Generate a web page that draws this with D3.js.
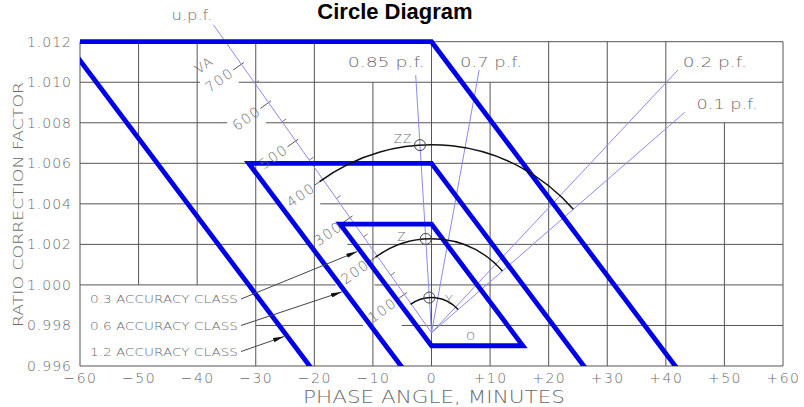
<!DOCTYPE html>
<html>
<head>
<meta charset="utf-8">
<script src="https://cdn.jsdelivr.net/npm/d3@7"></script>
<style>
body { margin: 0; background: #fff; }
text { font-family: "DejaVu Sans", sans-serif; font-weight: 200; fill: #6a6a6a; }
</style>
</head>
<body>
<div id="chart"></div>
<script>
// axis ticks
var phaseTicks = [-60, -50, -40, -30, -20, -10, 0, 10, 20, 30, 40, 50, 60];
var rcfTicks = [0.996, 0.998, 1.000, 1.002, 1.004, 1.006, 1.008, 1.010, 1.012];

// accuracy classes (RCF and TCF limits)
var classNames = ["0.3", "0.6", "1.2"];
var classLow = [0.997, 0.994, 0.988];
var classHigh = [1.003, 1.006, 1.012];
var classArrowRcf = [1.0017, 0.9997, 0.9975];
var tcfFactor = 2600; // TCF = RCF + phase/2600

// burden (circle diagram) data
var zeroPhase = 0, zeroRcf = 0.99764;
var pfLabels = ["u.p.f.", "0.85 p.f.", "0.7 p.f.", "0.2 p.f.", "0.1 p.f."];
var pfValues = [1, 0.85, 0.7, 0.2, 0.1];
var pfLineVA = [803, 549, 568, 766, 714];
var burdenNames = ["Y", "Z", "ZZ"];
var burdenVA = [75, 200, 400];
var burdenPf = 0.85;
var vaMajor = [100, 200, 300, 400, 500, 600, 700];
var vaMinor = [150, 250, 350, 450, 550, 650];

var W = 804, H = 407;
var svg = d3.select("#chart").append("svg").attr("width", W).attr("height", H);

var x = d3.scaleLinear().domain([-60, 60]).range([80, 783]);
var y = d3.scaleLinear().domain([0.996, 1.012]).range([366, 41.7]);
var vaPx = d3.scaleLinear().domain([0, 700]).range([0, 329]);
var upfAngle = -35.3 * Math.PI / 180;

var ox = x(zeroPhase), oy = y(zeroRcf);
function pfAngle(pf) { return upfAngle + Math.acos(pf); }
function burdenPoint(va, a) { return [ox + vaPx(va) * Math.sin(a), oy - vaPx(va) * Math.cos(a)]; }

var defs = svg.append("defs");
defs.append("clipPath").attr("id", "plotClip").append("rect")
    .attr("x", x(-60)).attr("y", 25).attr("width", x(60) - x(-60)).attr("height", y(0.996) - 25);
defs.append("marker").attr("id", "arrow")
    .attr("viewBox", "0 0 10 4").attr("refX", 10).attr("refY", 2)
    .attr("markerWidth", 11).attr("markerHeight", 4.5)
    .attr("markerUnits", "userSpaceOnUse").attr("orient", "auto")
    .attr("preserveAspectRatio", "none")
    .append("path").attr("d", "M0,0L10,2L0,4Z").attr("fill", "#111");

var gGrid = svg.append("g");
var gLines = svg.append("g");
var gBlue = svg.append("g").attr("clip-path", "url(#plotClip)");
var gArcs = svg.append("g");
var gText = svg.append("g");

// title
svg.append("text").attr("x", 395).attr("y", 19).attr("text-anchor", "middle")
    .style("font-family", "'Liberation Sans', Arial, sans-serif").style("font-weight", "bold")
    .style("font-size", "22px").style("fill", "#000").text("Circle Diagram");

// VA scale along u.p.f. line
var nx = -Math.abs(Math.cos(upfAngle)), ny = Math.abs(Math.sin(upfAngle)); // toward lower-left
var textRot = Math.atan2(-ny, -nx) * 180 / Math.PI;

vaMajor.forEach(function(v) {
    var p = burdenPoint(v, upfAngle);
    gLines.append("line").attr("x1", p[0] - nx * 3).attr("y1", p[1] - ny * 3)
        .attr("x2", p[0] + nx * 10).attr("y2", p[1] + ny * 10)
        .attr("stroke", "#555").attr("stroke-width", 1);
    var c = [p[0] + nx * 27, p[1] + ny * 27];
    gText.append("text").attr("class", "va")
        .attr("transform", "translate(" + c[0] + "," + c[1] + ") rotate(" + textRot + ")")
        .attr("text-anchor", "middle").attr("dy", "0.36em")
        .style("font-size", "14px").style("letter-spacing", "1.5px").text(v);
});
vaMinor.forEach(function(v) {
    var p = burdenPoint(v, upfAngle);
    gLines.append("line").attr("x1", p[0]).attr("y1", p[1])
        .attr("x2", p[0] - nx * 5).attr("y2", p[1] - ny * 5)
        .attr("stroke", "#777").attr("stroke-width", 1);
});
(function() {
    var p = burdenPoint(745, upfAngle);
    var c = [p[0] + nx * 31, p[1] + ny * 31];
    gText.append("text").attr("class", "va")
        .attr("transform", "translate(" + c[0] + "," + c[1] + ") rotate(" + textRot + ")")
        .attr("text-anchor", "middle").attr("dy", "0.36em")
        .style("font-size", "13px").style("letter-spacing", "1px").text("VA");
})();

// grid (with breaks where text sits)
var gridXTop = {"-50": 1.012, "-10": 1.010, "10": 1.010, "50": 1.008};
var gridXBottom = {"-50": 1.000, "-40": 1.000};
var gridYLeft = {"0.998": -30};
var boxes = [];
gText.selectAll("text.va").each(function() {
    boxes.push(this.getBoundingClientRect());
});
phaseTicks.forEach(function(t) {
    var top = gridXTop[t] !== undefined ? gridXTop[t] : 1.012;
    var bot = gridXBottom[t] !== undefined ? gridXBottom[t] : 0.996;
    gGrid.append("line").attr("x1", x(t)).attr("x2", x(t)).attr("y1", y(top)).attr("y2", y(bot))
        .attr("stroke", "#555").attr("stroke-width", 1);
});
rcfTicks.forEach(function(t) {
    var key = t.toFixed(3);
    var left = gridYLeft[key] !== undefined ? gridYLeft[key] : -60;
    var py = y(t);
    var segs = [[x(left), x(60)]];
    boxes.forEach(function(b) {
        if (py >= b.top - 1 && py <= b.bottom + 1) {
            var out = [];
            segs.forEach(function(s) {
                if (b.right + 2 < s[0] || b.left - 2 > s[1]) { out.push(s); return; }
                if (b.left - 2 > s[0]) out.push([s[0], b.left - 2]);
                if (b.right + 2 < s[1]) out.push([b.right + 2, s[1]]);
            });
            segs = out;
        }
    });
    segs.forEach(function(s) {
        gGrid.append("line").attr("x1", s[0]).attr("x2", s[1]).attr("y1", py).attr("y2", py)
            .attr("stroke", "#555").attr("stroke-width", 1);
    });
});

// power factor lines
pfValues.forEach(function(pf, i) {
    var e = burdenPoint(pfLineVA[i], pfAngle(pf));
    gLines.append("line").attr("x1", ox).attr("y1", oy).attr("x2", e[0]).attr("y2", e[1])
        .attr("stroke", "#8a8af0").attr("stroke-width", 1);
});
var pfLabelPos = [[-1, -5, "end", 41], [9, -8, "end", 77], [-19, -3, "start", 62], [5, -3, "start", 64], [12, -3, "start", 61]];
pfLabels.forEach(function(lbl, i) {
    var e = burdenPoint(pfLineVA[i], pfAngle(pfValues[i]));
    var pos = pfLabelPos[i];
    gText.append("text").attr("x", e[0] + pos[0]).attr("y", e[1] + pos[1])
        .attr("text-anchor", pos[2]).attr("textLength", pos[3]).attr("lengthAdjust", "spacingAndGlyphs")
        .style("font-size", "14px").text(lbl);
});

// accuracy class parallelograms
var poly = d3.line().curve(d3.curveLinearClosed);
classNames.forEach(function(c, i) {
    var lo = classLow[i], hi = classHigh[i], span = tcfFactor * (hi - lo);
    var pts = [[-span, hi], [0, hi], [span, lo], [0, lo]].map(function(d) { return [x(d[0]), y(d[1])]; });
    gBlue.append("path").attr("d", poly(pts)).attr("fill", "none")
        .attr("stroke", "#0000e6").attr("stroke-width", 4.8).attr("stroke-linejoin", "miter");
});

// burden arcs and points
var a0 = upfAngle - 1.2 * Math.PI / 180, a1 = pfAngle(0.1);
var burdenLabelPos = [[20, 2], [-24, -2], [-17, -6]];
burdenVA.forEach(function(v, i) {
    var p = d3.path();
    p.arc(ox, oy, vaPx(v), a0 - Math.PI / 2, a1 - Math.PI / 2);
    gArcs.append("path").attr("d", p.toString()).attr("fill", "none")
        .attr("stroke", "#111").attr("stroke-width", 1.5);
    var b = burdenPoint(v, pfAngle(burdenPf));
    gArcs.append("circle").attr("cx", b[0]).attr("cy", b[1]).attr("r", 5.5)
        .attr("fill", "none").attr("stroke", "#444").attr("stroke-width", 1);
    gText.append("text").attr("x", b[0] + burdenLabelPos[i][0]).attr("y", b[1] + burdenLabelPos[i][1])
        .attr("text-anchor", "middle").attr("dy", "0.36em")
        .style("font-size", "12px").style("letter-spacing", "1px").text(burdenNames[i]);
});
gText.append("text").attr("x", ox + 39).attr("y", oy + 3).attr("text-anchor", "middle")
    .attr("dy", "0.36em").style("font-size", "11px").text("O");

// legend with leaders
var legendY = [303, 329.5, 355.5];
classNames.forEach(function(c, i) {
    gText.append("text").attr("x", 90).attr("y", legendY[i])
        .attr("textLength", 148).attr("lengthAdjust", "spacingAndGlyphs")
        .style("font-size", "10.5px").text(c + " ACCURACY CLASS");
    var r = classArrowRcf[i];
    var tx = x(tcfFactor * (classLow[i] - r)), ty = y(r);
    var sx = 241, sy = legendY[i] - 4;
    var dx = tx - sx, dy = ty - sy, L = Math.sqrt(dx * dx + dy * dy);
    tx -= dx / L * 3; ty -= dy / L * 3;
    gArcs.append("line").attr("x1", sx).attr("y1", sy).attr("x2", tx).attr("y2", ty)
        .attr("stroke", "#444").attr("stroke-width", 1).attr("marker-end", "url(#arrow)");
});

// axes
var xAxis = d3.axisBottom(x).tickValues(phaseTicks).tickSize(0).tickPadding(0)
    .tickFormat(function(d) { return d > 0 ? "+" + d : d < 0 ? "\u2212" + (-d) : "0"; });
var gx = svg.append("g").attr("transform", "translate(0,383)").call(xAxis);
gx.select(".domain").remove();
gx.selectAll("text").attr("dy", 0).attr("y", 0)
    .style("font-size", "14px").style("letter-spacing", "1.5px").style("font-family", null);

var yAxis = d3.axisLeft(y).tickValues(rcfTicks).tickSize(0).tickPadding(8).tickFormat(d3.format(".3f"));
var gy = svg.append("g").attr("transform", "translate(80,0)").call(yAxis);
gy.select(".domain").remove();
gy.selectAll("text").style("font-size", "14px").style("letter-spacing", "1px").style("font-family", null);

svg.append("text").attr("x", 434).attr("y", 403).attr("text-anchor", "middle")
    .attr("textLength", 262).attr("lengthAdjust", "spacingAndGlyphs")
    .style("font-size", "18px").text("PHASE ANGLE, MINUTES");
svg.append("text").attr("transform", "translate(23,204.5) rotate(-90)").attr("text-anchor", "middle")
    .attr("textLength", 245).attr("lengthAdjust", "spacingAndGlyphs")
    .style("font-size", "14px").text("RATIO CORRECTION FACTOR");
</script>
</body>
</html>
